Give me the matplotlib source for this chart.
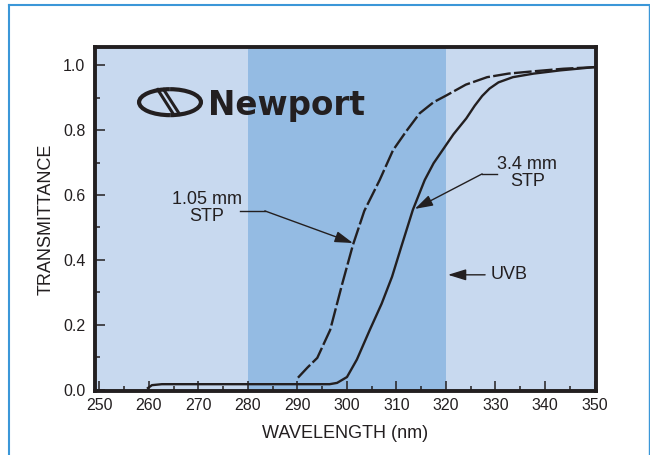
import matplotlib
matplotlib.use("Agg")
import matplotlib.pyplot as plt
from matplotlib.lines import Line2D
from matplotlib.patches import Arc

plt.rcParams['font.family'] = ['Liberation Sans', 'DejaVu Sans']

ink = '#231F20'
light = '#C8D9EF'
mid = '#94BBE3'

# UVB band and plot range (nm)
x_range = [249.1, 350.2]
uvb_band = [280, 320]

# 1.05 mm STP (dashed)
thin_wl = [290.1, 292.0, 294.0, 296.6, 299.0, 301.2, 303.5, 306.6, 309.3, 312.0,
           314.7, 317.5, 320.1, 324.0, 328.3, 332.6, 337.6, 343.7, 350.0]
thin_t = [0.037, 0.068, 0.098, 0.184, 0.324, 0.446, 0.551, 0.646, 0.738, 0.797,
          0.852, 0.886, 0.907, 0.940, 0.963, 0.974, 0.981, 0.989, 0.994]

# 3.4 mm STP (solid)
thick_wl = [259.6, 260.6, 262.6, 280.0, 296.5, 298.0, 300.0, 302.0, 304.6, 307.0,
            309.1, 311.0, 313.3, 315.7, 317.5, 319.3, 321.5, 324.1, 325.8, 327.3,
            328.8, 330.6, 333.5, 337.7, 343.1, 350.0]
thick_t = [0.003, 0.014, 0.017, 0.017, 0.017, 0.021, 0.039, 0.093, 0.184, 0.265,
           0.348, 0.442, 0.554, 0.646, 0.698, 0.738, 0.787, 0.836, 0.875, 0.905,
           0.928, 0.947, 0.963, 0.974, 0.984, 0.994]

xticks = list(range(250, 351, 10))
yticks = [0.0, 0.2, 0.4, 0.6, 0.8, 1.0]

fig = plt.figure(figsize=(6.5, 4.55), dpi=100)
ax = fig.add_axes([95 / 650, 1 - 391 / 455, 500.5 / 650, 344 / 455])

ax.set_xlim(x_range)
ax.set_ylim(-0.004, 1.056)
ax.set_facecolor(light)
ax.axvspan(uvb_band[0], uvb_band[1], color=mid, lw=0, zorder=0)

ax.plot(thick_wl, thick_t, color=ink, lw=1.7, solid_capstyle='butt', zorder=3)
ax.plot(thin_wl, thin_t, color=ink, lw=1.7, linestyle=(0, (7.5, 1.4)), zorder=3)

for s in ax.spines.values():
    s.set_linewidth(2.8)
    s.set_color(ink)

ax.set_xticks(xticks)
ax.set_xticks(list(range(255, 350, 10)), minor=True)
ax.set_yticks(yticks)
ax.set_yticks([0.1, 0.3, 0.5, 0.7, 0.9], minor=True)
ax.set_yticklabels([f"{v:.1f}" for v in yticks])
ax.tick_params(which='major', direction='in', length=7, width=1.1, color=ink,
               labelsize=11.5, labelcolor=ink, pad=5)
ax.tick_params(which='minor', direction='in', length=3.5, width=1.1, color=ink)
ax.tick_params(axis='y', which='major', pad=7)

ax.set_xlabel("WAVELENGTH (nm)", fontsize=13, color=ink, labelpad=9)
ax.set_ylabel("TRANSMITTANCE", fontsize=13, color=ink, labelpad=6)

arrow = dict(arrowstyle='-|>,head_length=0.55,head_width=0.17', mutation_scale=20,
             color=ink, lw=1.0, shrinkA=0, shrinkB=0)

# 1.05 mm label
ax.text(271.7, 0.56, "1.05 mm\nSTP", fontsize=13, color=ink, ha='center',
        va='center', linespacing=1.05)
ax.plot([278.4, 283.4], [0.551, 0.551], color=ink, lw=1.0)
ax.annotate("", xy=(301.2, 0.452), xytext=(283.4, 0.551), arrowprops=arrow)

# 3.4 mm label
ax.text(336.4, 0.668, "3.4 mm\nSTP", fontsize=13, color=ink, ha='center',
        va='center', linespacing=1.05)
ax.plot([330.3, 327.3], [0.665, 0.665], color=ink, lw=1.0)
ax.annotate("", xy=(313.7, 0.557), xytext=(327.3, 0.665), arrowprops=arrow)

# UVB label
ax.annotate("", xy=(320.4, 0.354), xytext=(327.9, 0.354), arrowprops=arrow)
ax.text(329.1, 0.354, "UVB", fontsize=13, color=ink, ha='left', va='center')

# Newport logo
ax.text(271.9, 0.846, "Newport", fontsize=23.5, fontweight='bold', color=ink,
        family=['DejaVu Sans'], ha='left', va='baseline')
ax.add_patch(Arc((264.25, 0.886), 12.5, 0.08, theta1=120, theta2=262,
                 color=ink, lw=3.0))
ax.add_patch(Arc((264.25, 0.886), 12.5, 0.08, theta1=-55, theta2=72,
                 color=ink, lw=3.0))
ax.plot([261.6, 265.06], [0.929, 0.846], color=ink, lw=2.2, solid_capstyle='butt')
ax.plot([262.8, 266.3], [0.929, 0.846], color=ink, lw=2.2, solid_capstyle='butt')

# outer blue frame
frame = '#3B97D8'
fig.add_artist(Line2D([9 / 650, 9 / 650], [0, 1 - 5 / 455], color=frame, lw=1.5))
fig.add_artist(Line2D([9 / 650, 1], [1 - 5 / 455, 1 - 5 / 455], color=frame, lw=1.5))
fig.add_artist(Line2D([648.5 / 650, 648.5 / 650], [0, 1 - 5 / 455], color=frame, lw=1.0))

fig.savefig("out.png", dpi=100)
